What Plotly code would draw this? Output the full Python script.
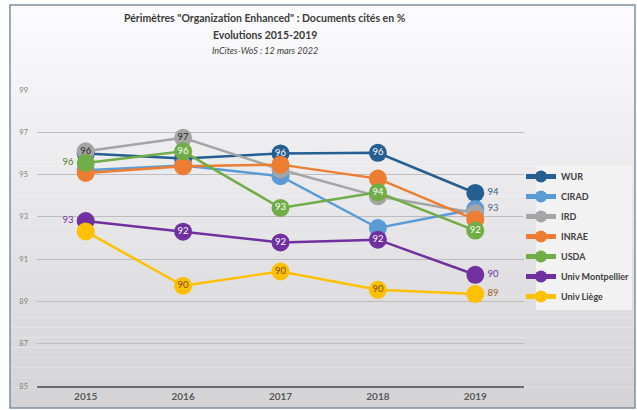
import numpy as np
import plotly.graph_objects as go

annees = ["2015", "2016", "2017", "2018", "2019"]

wur = [96.0, 95.76, 96.0, 96.03, 94.13]
cirad = [95.2, 95.43, 94.92, 92.47, 93.37]
ird = [96.1, 96.74, 95.24, 93.97, 93.18]
inrae = [95.08, 95.39, 95.47, 94.81, 92.87]
usda = [95.55, 96.1, 93.42, 94.16, 92.35]
montpellier = [92.8, 92.3, 91.79, 91.92, 90.26]
liege = [92.31, 89.74, 90.42, 89.55, 89.35]

# etiquettes visibles sur l'original ("" = pas d'etiquette)
lab_wur = ["", "", "96", "96", "94"]
lab_cirad = ["", "", "", "", "93"]
lab_ird = ["96", "97", "", "94", ""]
lab_inrae = ["", "", "", "", ""]
lab_usda = ["96", "96", "93", "94", "92"]
lab_montp = ["93", "92", "92", "92", "90"]
lab_liege = ["", "90", "90", "90", "89"]

FONT = "Lato"
C = "middle center"
L = "middle left"
R = "middle right"

series = [
    ("WUR", wur, "#255e91", lab_wur, [C, C, C, C, R],
     ["white", "white", "white", "white", "#2f5f8a"]),
    ("CIRAD", cirad, "#5b9bd5", lab_cirad, [C, C, C, C, R],
     ["white"] * 4 + ["#44668a"]),
    ("IRD", ird, "#a5a5a5", lab_ird, [C, C, C, C, C],
     ["#262626"] * 5),
    ("INRAE", inrae, "#ed7d31", lab_inrae, [C] * 5, ["white"] * 5),
    ("USDA", usda, "#70ad47", lab_usda, [L, C, C, C, C],
     ["#4e7a2c", "white", "white", "white", "white"]),
    ("Univ Montpellier", montpellier, "#7030a0", lab_montp, [L, C, C, C, R],
     ["#7030a0", "white", "white", "white", "#7030a0"]),
    ("Univ Liège", liege, "#ffc000", lab_liege, [C, C, C, C, R],
     ["#7a4a1c"] * 4 + ["#9c5a22"]),
]

fig = go.Figure()

# fond degrade du cadre
n = 40
x0, x1 = -27 / 487, 1 + 111 / 487
ytop, ybot = 1 + 85 / 296, -22 / 296
for i in range(n):
    a = ytop - (ytop - ybot) * i / n
    b = ytop - (ytop - ybot) * (i + 1) / n
    g = int(252 - (252 - 212) * i / (n - 1))
    fig.add_shape(type="rect", xref="paper", yref="paper",
                  x0=x0, x1=x1, y0=b, y1=a, layer="below",
                  line=dict(width=0), fillcolor=f"rgb({g},{g},{g+2})")
# cadre du panneau de legende
fig.add_shape(type="rect", xref="paper", yref="paper",
              x0=(536 - 37) / 487, x1=(632 - 37) / 487,
              y0=(386 - 310) / 296, y1=(386 - 165) / 296, layer="below",
              line=dict(width=0), fillcolor="#f2f2f2")
fig.add_shape(type="rect", xref="paper", yref="paper",
              x0=x0, x1=x1, y0=ybot, y1=ytop, layer="above",
              line=dict(color="#7d8fa3", width=1.5))

for i, (nom, vals, col, labs, pos, tcol) in enumerate(series):
    fig.add_trace(go.Scatter(
        x=annees, y=vals, mode="lines+markers+text",
        name=nom, legendgroup=nom,
        line=dict(color=col, width=2.5),
        marker=dict(size=18, color=col),
        text=labs, textposition=pos,
        textfont=dict(family=FONT, size=9.5, color=tcol),
        cliponaxis=False,
    ))

# etiquette 2015 Univ Liège avec trait de rappel
fig.add_annotation(x=annees[0], y=liege[0], text="92", showarrow=True,
                   arrowhead=0, arrowwidth=1, arrowcolor="#808080",
                   ax=-22, ay=16, standoff=6,
                   font=dict(family=FONT, size=10.5, color="#9c5a22"))

titre = dict(xref="paper", yref="paper", x=0.468, yanchor="middle",
             showarrow=False)
fig.add_annotation(**titre, y=1 + 72 / 296,
                   text="<b>Périmètres \"Organization Enhanced\" : Documents cités en %</b>",
                   font=dict(family=FONT, size=10.5, color="#3a3a3a"))
fig.add_annotation(**titre, y=1 + 55 / 296,
                   text="<b>Evolutions 2015-2019</b>",
                   font=dict(family=FONT, size=10.5, color="#3a3a3a"))
fig.add_annotation(**titre, y=1 + 40 / 296,
                   text="<i>InCites-WoS : 12 mars 2022</i>",
                   font=dict(family=FONT, size=9, color="#404040"))

fig.update_layout(
    width=637, height=410,
    margin=dict(l=37, r=113, t=90, b=24, autoexpand=False),
    paper_bgcolor="white",
    plot_bgcolor="rgba(0,0,0,0)",
    showlegend=True,
    legend=dict(x=(521 - 37) / 487, y=(386 - 162) / 296,
                xanchor="left", yanchor="top",
                bgcolor="rgba(0,0,0,0)",
                font=dict(family=FONT, size=9, color="#404040", weight="bold"),
                itemsizing="constant", tracegroupgap=1, itemwidth=30),
    font=dict(family=FONT),
)
fig.update_xaxes(type="category", range=[-0.5, 4.5],
                 showgrid=False, showline=True, linecolor="#6b6b6b", linewidth=2,
                 tickfont=dict(family=FONT, size=10, color="#595959", weight="bold"),
                 ticks="", fixedrange=True)
fig.update_yaxes(range=[85, 99], dtick=2, tick0=85, showgrid=True,
                 gridcolor="#bdbdbd", gridwidth=1, zeroline=False,
                 tickfont=dict(family=FONT, size=7.5, color="#7f7f7f"),
                 ticks="", ticklabelstandoff=8)

fig.write_html("out.html", config={"displayModeBar": False},
               post_script="document.body.style.margin='0';")
